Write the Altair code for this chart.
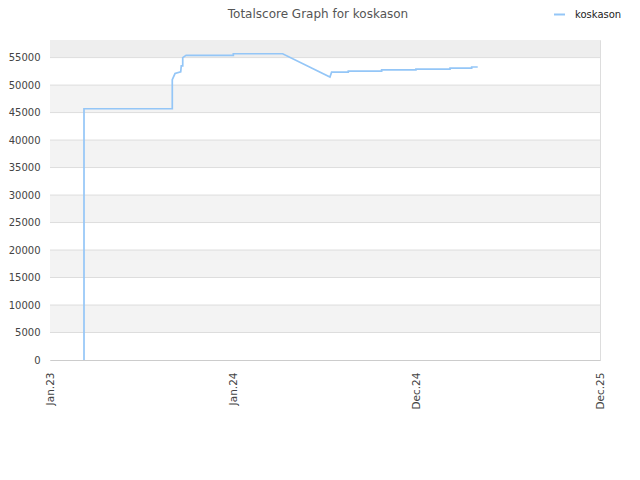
import altair as alt
import pandas as pd

# --- data ---
title_text = "Totalscore Graph for koskason"
tick_labels = ["Jan.23", "Jan.24", "Dec.24", "Dec.25"]
tick_pos = [0, 1, 2, 3]
# x in axis-tick units (0 = Jan.23, 1 = Jan.24, 2 = Dec.24, 3 = Dec.25)
x_vals = [0.1855, 0.1855, 0.667, 0.667, 0.682, 0.713, 0.716, 0.724, 0.724, 0.742,
          1.0, 1.0, 1.269, 1.527, 1.536, 1.627, 1.627, 1.809, 1.809, 1.996,
          1.996, 2.182, 2.182, 2.300, 2.300, 2.333]
scores = [0, 45700, 45700, 51000, 52100, 52400, 53500, 53500, 55000, 55400,
          55400, 55700, 55700, 51450, 52350, 52350, 52550, 52550, 52750, 52750,
          52920, 52920, 53100, 53100, 53290, 53290]
player = "koskason"
y_max = 58200
grid_vals = [5000, 10000, 15000, 20000, 25000, 30000, 35000, 40000, 45000, 50000, 55000]
band_lo = [0, 5000, 10000, 15000, 20000, 25000, 30000, 35000, 40000, 45000, 50000, 55000]
band_hi = [5000, 10000, 15000, 20000, 25000, 30000, 35000, 40000, 45000, 50000, 55000, 58200]
band_col = ["#ffffff", "#f3f3f3", "#ffffff", "#f3f3f3", "#ffffff", "#f3f3f3",
            "#ffffff", "#f3f3f3", "#ffffff", "#f3f3f3", "#ffffff", "#eeeeee"]

W, H = 550, 320
line_color = "#94c6f7"
FONT = "DejaVu Sans"

df = pd.DataFrame({"x": x_vals, "score": scores, "order": range(len(x_vals)),
                   "name": [player] * len(x_vals)})
bands = pd.DataFrame({"lo": band_lo, "hi": band_hi, "c": band_col})
grid = pd.DataFrame({"g": grid_vals})
title_df = pd.DataFrame({"t": [title_text]})

label_expr = "[" + ",".join("'%s'" % t for t in tick_labels) + "][datum.value]"

yscale = alt.Scale(domain=[0, y_max], nice=False, zero=True)
xscale = alt.Scale(domain=[0, 3], nice=False, zero=False)
yaxis = alt.Axis(title=None, grid=False, ticks=False, domain=False, format="d",
                 labelOverlap=False, labelFlush=False,
                 values=[0] + grid_vals, labelPadding=10, labelFontSize=10,
                 labelColor="#444", labelFont=FONT)
xaxis = alt.Axis(title=None, grid=False, ticks=False, domain=True,
                 domainColor="#cccccc", values=tick_pos, labelExpr=label_expr,
                 labelAngle=270, labelPadding=12, labelFontSize=10.5,
                 labelColor="#444", labelFont=FONT, labelFlush=False)

band_layer = alt.Chart(bands).mark_rect().encode(
    x=alt.value(0), x2=alt.value(W),
    y=alt.Y("lo:Q", scale=yscale, axis=yaxis),
    y2="hi:Q",
    color=alt.Color("c:N", scale=None),
)

grid_layer = alt.Chart(grid).mark_rule(color="#dddddd", strokeWidth=1).encode(
    y=alt.Y("g:Q", scale=yscale, axis=yaxis), x=alt.value(0), x2=alt.value(W))

line_layer = alt.Chart(df).mark_line(strokeWidth=1.7).encode(
    x=alt.X("x:Q", scale=xscale, axis=xaxis),
    y=alt.Y("score:Q", scale=yscale, axis=yaxis),
    order="order:Q",
    color=alt.Color("name:N", scale=alt.Scale(domain=[player], range=[line_color]),
                    legend=alt.Legend(title=None, orient="none", legendX=503,
                                      legendY=-32, symbolType="stroke",
                                      symbolSize=121, symbolStrokeWidth=2,
                                      labelOffset=9,
                                      labelFontSize=10, labelColor="#222",
                                      labelFont=FONT)),
)

title_layer = alt.Chart(title_df).mark_text(
    font=FONT, fontSize=12, color="#555", align="center", baseline="middle"
).encode(x=alt.value(268), y=alt.value(-26), text="t:N")

chart = alt.layer(band_layer, grid_layer, line_layer, title_layer).properties(
    width=W, height=H,
    autosize=alt.AutoSizeParams(type="none"),
    padding={"left": 42, "top": 32, "right": 30, "bottom": 100},
).resolve_scale(color="independent").configure_view(stroke="#dddddd", strokeWidth=1)

chart.save("out.html", embed_options={"renderer": "svg", "actions": False})
